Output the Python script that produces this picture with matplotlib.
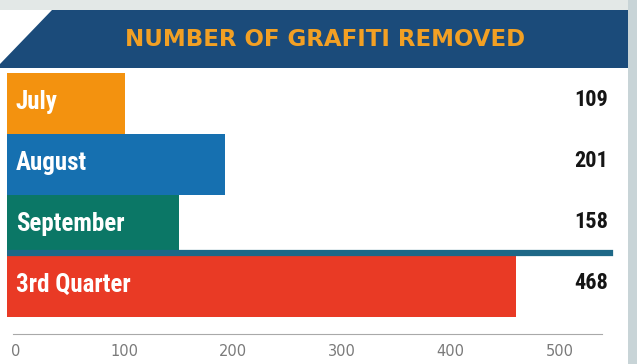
import matplotlib
matplotlib.use("Agg")
import matplotlib.pyplot as plt
from matplotlib import font_manager
from matplotlib.patches import Polygon, Rectangle
from matplotlib.transforms import ScaledTranslation, blended_transform_factory

# --- data -------------------------------------------------------------
categories = ["July", "August", "September", "3rd Quarter"]
removed = [109, 201, 158, 468]
value_labels = ["109", "201", "158", "468"]
tick_values = [0, 100, 200, 300, 400, 500]
tick_labels = ["0", "100", "200", "300", "400", "500"]
title = "NUMBER OF GRAFITI REMOVED"

bar_colors = ["#f3920f", "#1670b0", "#0b7766", "#e93a25"]
banner_color = "#1b4b7a"
title_color = "#f2a024"
separator_color = "#1e6887"

# --- fonts ------------------------------------------------------------
installed = {f.name for f in font_manager.fontManager.ttflist}


def pick_family(candidates):
    for name in candidates:
        if name in installed:
            return name
    return "DejaVu Sans"


narrow = pick_family(["Liberation Sans Narrow", "DejaVu Sans Condensed",
                      "Roboto Condensed", "Liberation Sans"])

W, H = 637, 364
fig = plt.figure(figsize=(W / 100, H / 100), dpi=100)
fig.patch.set_facecolor("white")


def fp(x, y):
    """pixel position (from top-left) -> figure fraction"""
    return (x / W, 1 - y / H)


# paper background strips
fig.add_artist(Rectangle(fp(0, 10), 1, 10 / H, transform=fig.transFigure,
                         facecolor="#e3e8e7", edgecolor="none"))
fig.add_artist(Rectangle(fp(628, H), 9 / W, 1, transform=fig.transFigure,
                         facecolor="#c8d4d7", edgecolor="none"))

# title banner with slanted left edge
banner = Polygon([fp(52, 10), fp(628, 10), fp(628, 68), fp(0, 68), fp(0, 64)],
                 closed=True, transform=fig.transFigure,
                 facecolor=banner_color, edgecolor="none")
fig.add_artist(banner)
fig.text(325 / W, 1 - 40 / H, title, ha="center", va="center",
         color=title_color, fontsize=16.5, fontweight="heavy",
         family="DejaVu Sans")

# --- bar axes ---------------------------------------------------------
px_per_unit = 1.087
ax_left, ax_right, ax_top, ax_bottom = 7, 628, 73, 334
ax = fig.add_axes([ax_left / W, 1 - ax_bottom / H,
                   (ax_right - ax_left) / W, (ax_bottom - ax_top) / H])
ax.set_facecolor("white")

positions = list(range(len(categories)))
ax.barh(positions, removed, height=1.0, color=bar_colors, edgecolor="none",
        zorder=2)
ax.set_xlim(0, (ax_right - ax_left) / px_per_unit)
ax.set_ylim(3.78, -0.5)

# dark rule separating the monthly bars from the quarter total
ax.axhline(2.45, xmin=0, xmax=(610 - ax_left) / (ax_right - ax_left),
           color=separator_color, linewidth=4.5, zorder=3)

# labels inside / right of bars
label_tf = blended_transform_factory(ax.transAxes, ax.transData)
for pos, cat, val in zip(positions, categories, value_labels):
    ax.text((16 - ax_left) / (ax_right - ax_left), pos - 0.03, cat,
            transform=label_tf, ha="left", va="center", color="white",
            fontsize=18, fontweight="bold", family=narrow, zorder=4)
    ax.text((608 - ax_left) / (ax_right - ax_left), pos - 0.05, val,
            transform=label_tf, ha="right", va="center", color="#151515",
            fontsize=16, fontweight="bold", family=narrow, zorder=4)

# axis styling
for side in ("top", "right", "left"):
    ax.spines[side].set_visible(False)
ax.spines["bottom"].set_color("#a9a9a9")
ax.spines["bottom"].set_linewidth(0.8)
ax.spines["bottom"].set_bounds(6 / px_per_unit, (602 - ax_left) / px_per_unit)
ax.set_yticks([])
ax.set_xticks(tick_values)
ax.set_xticklabels(tick_labels)
ax.tick_params(axis="x", length=0, pad=7, labelsize=10.5, labelcolor="#7a7a7a")
shift = ScaledTranslation(9 / 100, 0, fig.dpi_scale_trans)
for lab in ax.get_xticklabels():
    lab.set_transform(lab.get_transform() + shift)

fig.savefig("out.png", dpi=100, facecolor=fig.get_facecolor())
